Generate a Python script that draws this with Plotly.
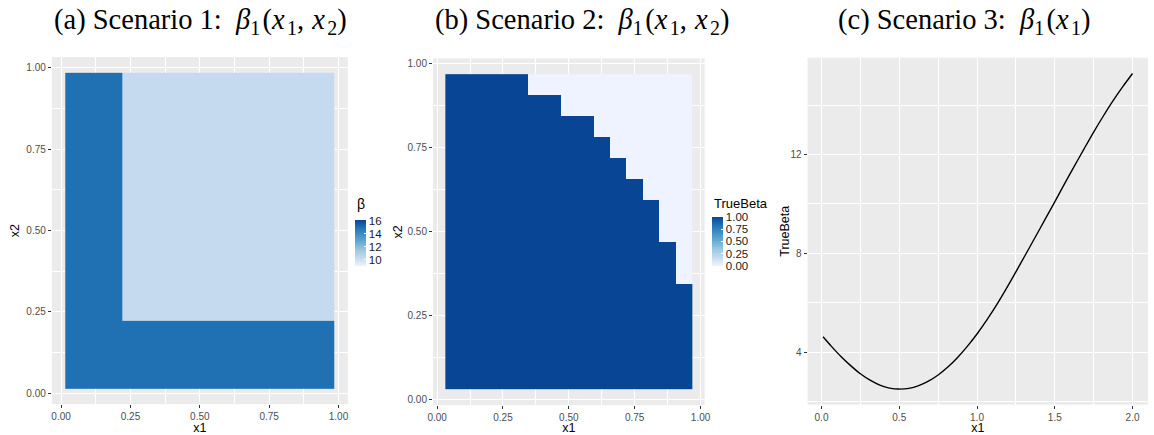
import plotly.graph_objects as go

# ---------------- data ----------------
# Panel (a): two-level surface on a grid (cell edges)
a_x_edges = [0.015, 0.221, 0.985]
a_y_edges = [0.015, 0.222, 0.985]
a_beta_dark = 15.0
a_beta_light = 10.3
a_z = [[a_beta_dark, a_beta_dark],
       [a_beta_dark, a_beta_light]]
a_zmin, a_zmax = 9.08, 16.15
a_ticks = [10, 12, 14, 16]

# Panel (b): 15 x 15 grid, number of dark (TrueBeta=1) rows per column
b_grid = [0.0625, 0.125, 0.1875, 0.25, 0.3125, 0.375, 0.4375, 0.5,
          0.5625, 0.625, 0.6875, 0.75, 0.8125, 0.875, 0.9375]
b_dark_rows = [15, 15, 15, 15, 15, 14, 14, 13, 13, 12, 11, 10, 9, 7, 5]
b_ticks = [0.0, 0.25, 0.5, 0.75, 1.0]

# Panel (c): curve beta_1(x1)
c_x = [0.01, 0.0625, 0.125, 0.1875, 0.25, 0.3125, 0.375, 0.4375, 0.5,
       0.5625, 0.625, 0.6875, 0.75, 0.8125, 0.875, 0.9375, 1.0,
       1.0625, 1.125, 1.1875, 1.25, 1.3125, 1.375, 1.4375, 1.5,
       1.5625, 1.625, 1.6875, 1.75, 1.8125, 1.875, 1.9375, 2.0]
c_y = [4.62, 4.24, 3.82, 3.45, 3.12, 2.86, 2.66, 2.54, 2.50,
       2.53, 2.64, 2.82, 3.07, 3.39, 3.78, 4.23, 4.73,
       5.29, 5.90, 6.56, 7.25, 7.95, 8.66, 9.37, 10.08,
       10.81, 11.52, 12.22, 12.91, 13.56, 14.18, 14.75, 15.28]

unit_ticks = [0, 0.25, 0.5, 0.75, 1.0]
unit_labels = ["0.00", "0.25", "0.50", "0.75", "1.00"]
unit_minor = [0.125, 0.375, 0.625, 0.875]

blues7 = ["#EFF3FF", "#C6DBEF", "#9ECAE1", "#6BAED6", "#4292C6", "#2171B5", "#084594"]
colorscale = [[i / 6, c] for i, c in enumerate(blues7)]

b_z = [[1 if r < b_dark_rows[c] else 0 for c in range(len(b_grid))]
       for r in range(len(b_grid))]

# ---------------- figure ----------------
W, H = 1154, 435
SANS = "Liberation Sans, Arial, sans-serif"
SERIF = "Liberation Serif, Times New Roman, serif"
TICKC = "#4d4d4d"
PANEL = "#EBEBEB"

fig = go.Figure()

def cbar(x_px, top_px, bot_px, tickvals, ticktext):
    return dict(
        x=x_px / W, xanchor="left",
        y=1 - bot_px / H, yanchor="bottom",
        len=bot_px - top_px, lenmode="pixels",
        thickness=11, thicknessmode="pixels",
        xpad=0, ypad=0, outlinewidth=0,
        tickvals=tickvals, ticktext=ticktext,
        ticks="inside", ticklen=2, tickcolor="white", tickwidth=1,
        tickfont=dict(family=SANS, size=11.5, color="#1a1a1a"),
    )

fig.add_trace(go.Heatmap(
    x=a_x_edges, y=a_y_edges, z=a_z, zmin=a_zmin, zmax=a_zmax,
    colorscale=colorscale, xaxis="x", yaxis="y", hoverinfo="skip",
    colorbar=cbar(353, 221, 267, a_ticks, [str(t) for t in a_ticks]),
))

fig.add_trace(go.Heatmap(
    x=b_grid, y=b_grid, z=b_z, zmin=0, zmax=1,
    colorscale=colorscale, xaxis="x2", yaxis="y2", hoverinfo="skip",
    colorbar=cbar(713, 218, 267, b_ticks, ["0.00", "0.25", "0.50", "0.75", "1.00"]),
))

fig.add_trace(go.Scatter(
    x=c_x, y=c_y, mode="lines",
    line=dict(color="black", width=1.4, shape="spline", smoothing=0.6),
    xaxis="x3", yaxis="y3", showlegend=False, hoverinfo="skip",
))

def axis(domain, rng, tickvals, ticktext, minor_vals, title, anchor, standoff=3):
    return dict(
        domain=domain, range=rng, anchor=anchor,
        tickvals=tickvals, ticktext=ticktext,
        ticks="outside", ticklen=3, tickwidth=1, tickcolor="#333333",
        tickfont=dict(family=SANS, size=10, color=TICKC),
        showgrid=True, gridcolor="white", gridwidth=1.3,
        minor=dict(tickvals=minor_vals, showgrid=True, gridcolor="white", gridwidth=0.6, ticks=""),
        zeroline=False, showline=False,
        title=dict(text=title, font=dict(family=SANS, size=12.5, color="#000"), standoff=standoff),
        fixedrange=True,
    )

def xd(l, r):
    return [l / W, min(r / W, 1.0)]

def yd(t, b):
    return [1 - b / H, 1 - t / H]

layout = dict(
    width=W, height=H,
    margin=dict(l=0, r=0, t=0, b=0),
    paper_bgcolor="white", plot_bgcolor=PANEL,
    showlegend=False,
    xaxis=axis(xd(46.3, 345.4), [-0.0335, 1.0335], unit_ticks, unit_labels, unit_minor, "x1", "y"),
    yaxis=axis(yd(57.3, 406), [-0.0335, 1.0335], unit_ticks, unit_labels, unit_minor, "x2", "x"),
    xaxis2=axis(xd(431.5, 706), [-0.0156, 1.0156], unit_ticks, unit_labels, unit_minor, "x1", "y2"),
    yaxis2=axis(yd(58.7, 407), [-0.0156, 1.0156], unit_ticks, unit_labels, unit_minor, "x2", "x2", 2),
    xaxis3=axis(xd(810, 1154), [-0.0895, 2.0995], [0, 0.5, 1.0, 1.5, 2.0],
                ["0.0", "0.5", "1.0", "1.5", "2.0"], [0.25, 0.75, 1.25, 1.75], "x1", "y3"),
    yaxis3=axis(yd(58, 406.5), [1.87, 15.92], [4, 8, 12], ["4", "8", "12"], [2, 6, 10, 14],
                "", "x3"),
)
fig.update_layout(**layout)

# y-axis title of panel (c)
fig.add_annotation(
    x=787 / W, y=1 - 232 / H, xref="paper", yref="paper",
    xanchor="center", yanchor="middle", showarrow=False, textangle=-90,
    text="TrueBeta", font=dict(family=SANS, size=12.5, color="#000"),
)

# legend titles
for x_px, y_px, txt, size in [(352.5, 205, "β", 14), (713, 204.5, "TrueBeta", 13)]:
    fig.add_annotation(
        x=x_px / W, y=1 - y_px / H, xref="paper", yref="paper",
        xanchor="left", yanchor="middle", showarrow=False,
        text=txt, font=dict(family=SANS, size=size, color="#000"),
    )

HS = "\u200a"  # hair space, mimics math spacing
TS = "\u2009"  # thin space
EN = "\u2002"
math2 = "<i>β</i><sub>1</sub>" + HS + "(<i>x</i>" + HS + "<sub>1</sub>," + TS + HS + "<i>x</i>" + HS + "<sub>2</sub>)"
math1 = "<i>β</i><sub>1</sub>" + HS + "(<i>x</i>" + HS + "<sub>1</sub>)"
titles = [
    (196.5, "(a) Scenario 1:" + EN + math2),
    (582.5, "(b) Scenario 2:" + EN + math2),
    (968.3, "(c) Scenario 3:" + EN + math1),
]
for xc, txt in titles:
    fig.add_annotation(
        x=xc / W, y=1 - 22 / H, xref="paper", yref="paper",
        xanchor="center", yanchor="middle", showarrow=False,
        text=txt, font=dict(family=SERIF, size=28.5, color="#000"),
    )

fig.write_html("out.html")
